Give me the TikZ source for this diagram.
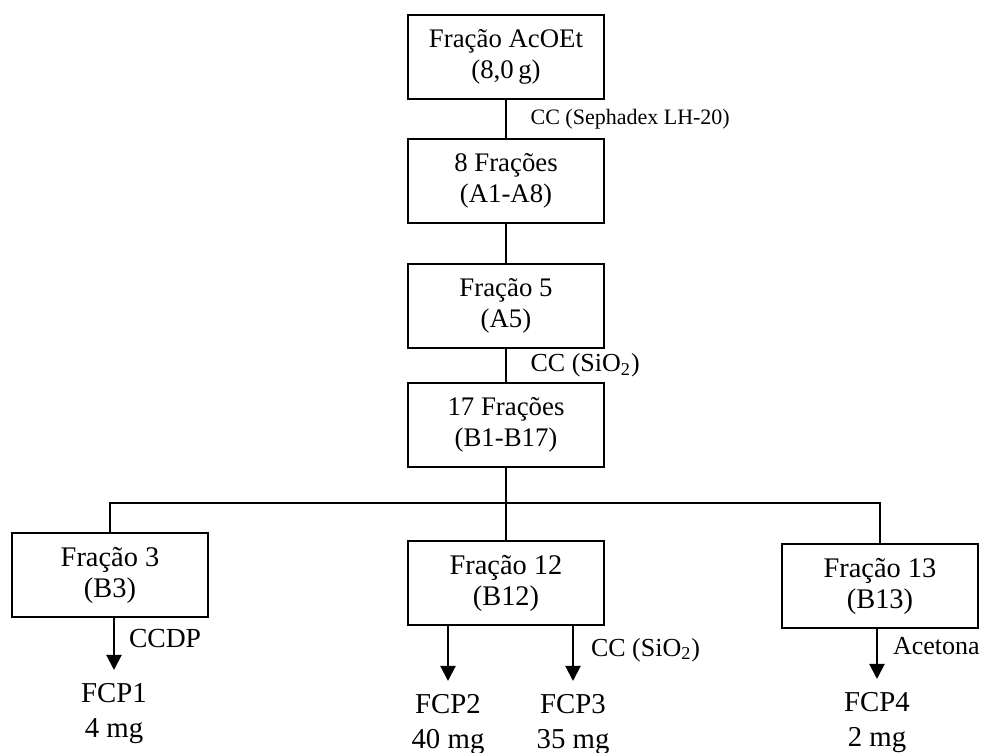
\documentclass[tikz,border=0pt]{standalone}
\usepackage{fontspec}
\setmainfont{Liberation Serif}
\usetikzlibrary{arrows.meta}

\begin{document}
\begin{tikzpicture}[x=0.5pt,y=-0.5pt,
  caixa/.style={draw,line width=0.6pt,minimum width=98pt,minimum height=42pt,align=center,inner sep=0pt,font=\fontsize{13.4}{15.5}\selectfont},
  caixab/.style={caixa,font=\fontsize{14.2}{15.5}\selectfont},
  rotulo/.style={anchor=west,inner sep=0pt,font=\fontsize{13}{15}\selectfont},
  produto/.style={anchor=north,align=center,inner sep=0pt,font=\fontsize{14.4}{17.5}\selectfont},
  liga/.style={line width=0.6pt},
  seta/.style={line width=1pt,-{Triangle[width=7.5pt,length=7.5pt]},shorten >=6.5pt}]
\useasboundingbox (0,0) rectangle (982,753);     %画布大小
\node[caixa] (acoet) at (506,57) {Fração AcOEt\\(8,0\,g)};
\node[caixa] (f8) at (506,181) {8 Frações\\(A1-A8)};
\node[caixa] (f5) at (506,306) {Fração 5\\(A5)};
\node[caixa] (f17) at (506,425) {17 Frações\\(B1-B17)};
\node[caixab] (b3) at (110,575) {Fração 3\\(B3)};
\node[caixab] (b12) at (506,583) {Fração 12\\(B12)};
\node[caixab] (b13) at (880,586) {Fração 13\\(B13)};
\node[produto] (fcp1) at (114,683) {FCP1\\4 mg};
\node[produto] (fcp2) at (448,694) {FCP2\\40 mg};
\node[produto] (fcp3) at (573,694) {FCP3\\35 mg};
\node[produto] (fcp4) at (877,692) {FCP4\\2 mg};
\coordinate (barra) at (506,503);     %横线
\draw[liga] (acoet) -- node[rotulo,xshift=12pt,font=\fontsize{11}{13}\selectfont]{CC (Sephadex LH-20)} (f8);
\draw[liga] (f8) -- (f5);
\draw[liga] (f5) -- node[rotulo,xshift=12pt]{CC (SiO\textsubscript{2})} (f17);
\draw[liga] (f17) -- (b12);
\draw[liga] (b3.north) |- (barra) -| (b13.north);
\draw[seta] (b3.south -| fcp1) -- node[rotulo,xshift=7pt,yshift=6pt,font=\fontsize{13.8}{15}\selectfont]{CCDP} (fcp1.north);
\draw[seta] (b12.south -| fcp2) -- (fcp2.north);
\draw[seta] (b12.south -| fcp3) -- node[rotulo,xshift=8.5pt,yshift=5pt]{CC (SiO\textsubscript{2})} (fcp3.north);
\draw[seta] (b13.south -| fcp4) -- node[rotulo,xshift=7.5pt,yshift=7pt]{Acetona} (fcp4.north);
\end{tikzpicture}
\end{document}
